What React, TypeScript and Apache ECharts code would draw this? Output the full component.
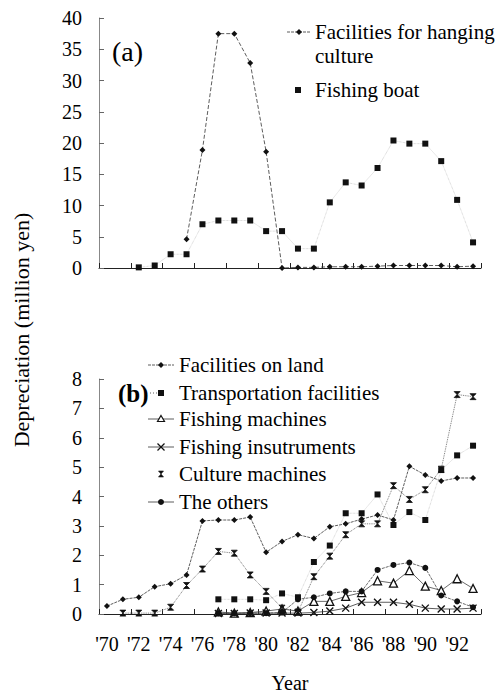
import React, { useEffect, useRef } from "react";
import * as echarts from "echarts";

const years = ["'70", "'71", "'72", "'73", "'74", "'75", "'76", "'77", "'78", "'79", "'80", "'81", "'82", "'83", "'84", "'85", "'86", "'87", "'88", "'89", "'90", "'91", "'92", "'93"];

// Panel (a)
const hangingCulture = [null, null, null, null, null, 4.6, 18.9, 37.5, 37.5, 32.8, 18.6, 0, 0.1, 0.1, 0.2, 0.2, 0.2, 0.3, 0.4, 0.4, 0.4, 0.4, 0.2, 0.3];
const fishingBoat = [null, null, 0.1, 0.4, 2.2, 2.2, 7.0, 7.6, 7.6, 7.6, 5.9, 5.9, 3.1, 3.1, 10.5, 13.7, 13.2, 16.0, 20.4, 19.9, 19.9, 17.1, 10.9, 4.1];

// Panel (b)
const facilitiesOnLand = [0.27, 0.5, 0.57, 0.93, 1.03, 1.33, 3.17, 3.2, 3.2, 3.3, 2.1, 2.47, 2.7, 2.57, 2.97, 3.07, 3.23, 3.37, 3.2, 5.03, 4.73, 4.53, 4.63, 4.63];
const transportation = [null, null, null, null, null, null, null, 0.5, 0.5, 0.5, 0.47, 0.7, 0.57, 1.77, 2.33, 3.43, 3.43, 4.07, 3.03, 3.47, 3.2, 4.9, 5.4, 5.73];
const fishingMachines = [null, null, null, null, null, null, null, 0.07, 0.03, 0.05, 0.1, 0.17, 0.1, 0.43, 0.43, 0.6, 0.73, 1.13, 1.05, 1.48, 0.95, 0.8, 1.2, 0.87];
const fishingInstruments = [null, null, null, null, null, null, null, 0.02, 0.02, 0.03, 0.03, 0.03, 0.03, 0.05, 0.1, 0.2, 0.4, 0.4, 0.4, 0.33, 0.2, 0.17, 0.17, 0.2];
const cultureMachines = [null, 0.03, 0.03, 0.03, 0.23, 0.97, 1.53, 2.13, 2.07, 1.33, 0.77, 0.2, 0.07, 1.27, 1.97, 2.7, 3.07, 3.07, 4.37, 3.9, 4.23, 4.93, 7.47, 7.4];
const theOthers = [null, null, null, null, null, null, null, 0.03, 0.03, 0.03, 0.03, 0.05, 0.5, 0.57, 0.7, 0.77, 0.77, 1.5, 1.67, 1.75, 1.57, 0.63, 0.43, 0.23];

const yTicksA = { min: 0, max: 40, interval: 5 };
const yTicksB = { min: 0, max: 8, interval: 1 };

const FONT = "Liberation Serif";
const INK = "#111";
const HOURGLASS = "path://M0,0L10,0L0,10L10,10Z";
const CROSS = "path://M0,0L10,10M10,0L0,10";

export default function App() {
  const ref = useRef<HTMLDivElement>(null);

  useEffect(() => {
    if (!ref.current) return;
    const chart = echarts.init(ref.current, null, { renderer: "svg" });

    const xAxisBase = (gridIndex: number, showLabels: boolean) => ({
      type: "category",
      gridIndex,
      data: years,
      boundaryGap: true,
      axisLine: { show: true, lineStyle: { color: "#222", width: 1 } },
      axisTick: { show: true, inside: true, length: 5, lineStyle: { color: "#222" } },
      axisLabel: {
        show: showLabels,
        interval: 1,
        margin: 20,
        fontFamily: FONT,
        fontSize: 20,
        color: "#000",
      },
      splitLine: { show: false },
    });

    const yAxisBase = (gridIndex: number, t: { min: number; max: number; interval: number }) => ({
      type: "value",
      gridIndex,
      min: t.min,
      max: t.max,
      interval: t.interval,
      axisLine: { show: true, lineStyle: { color: "#888", width: 1 } },
      axisTick: { show: true, inside: true, length: 5, lineStyle: { color: "#666" } },
      axisLabel: { margin: 17, fontFamily: FONT, fontSize: 20, color: "#000" },
      splitLine: { show: false },
    });

    const text = (x: number, y: number, s: string, size = 21, extra: any = {}) => ({
      type: "text",
      x,
      y,
      silent: true,
      ...(extra.rotation ? { rotation: extra.rotation } : {}),
      style: {
        text: s,
        fontFamily: FONT,
        fontSize: size,
        ...(extra.bold ? { fontWeight: "bold" } : {}),
        fill: "#000",
        textAlign: extra.align || "left",
        textVerticalAlign: "middle",
      },
    });
    const hline = (x1: number, x2: number, y: number, dash?: number[]) => ({
      type: "line",
      silent: true,
      shape: { x1, y1: y, x2, y2: y },
      style: { stroke: "#333", lineWidth: 0.8, lineDash: dash || null },
    });
    const diamond = (cx: number, cy: number, r = 3) => ({
      type: "polygon",
      silent: true,
      shape: { points: [[cx, cy - r], [cx + r, cy], [cx, cy + r], [cx - r, cy]] },
      style: { fill: INK },
    });
    const square = (cx: number, cy: number, s = 6) => ({
      type: "rect",
      silent: true,
      shape: { x: cx - s / 2, y: cy - s / 2, width: s, height: s },
      style: { fill: INK },
    });

    // legend rows (b)
    const lx1 = 148, lx2 = 174, lmx = 161, ltx = 179;
    const rows = [365, 393, 419, 447, 474, 502];

    chart.setOption({
      animation: false,
      backgroundColor: "#fff",
      textStyle: { fontFamily: FONT },
      grid: [
        { left: 99, top: 18, width: 382, height: 250 },
        { left: 99, top: 379, width: 382, height: 240 },
      ],
      xAxis: [
        xAxisBase(0, false),
        {
          ...xAxisBase(1, true),
          name: "Year",
          nameLocation: "middle",
          nameGap: 59,
          nameTextStyle: { fontFamily: FONT, fontSize: 20, color: "#000", verticalAlign: "top" },
        },
      ],
      yAxis: [yAxisBase(0, yTicksA), yAxisBase(1, yTicksB)],
      series: [
        {
          name: "Facilities for hanging culture",
          type: "line",
          xAxisIndex: 0,
          yAxisIndex: 0,
          data: hangingCulture,
          symbol: "diamond",
          symbolSize: 6,
          showAllSymbol: true,
          lineStyle: { color: "#333", width: 0.8, type: [4, 2] },
          itemStyle: { color: INK, borderWidth: 0 },
        },
        {
          name: "Fishing boat",
          type: "line",
          xAxisIndex: 0,
          yAxisIndex: 0,
          data: fishingBoat,
          symbol: "rect",
          symbolSize: 6,
          showAllSymbol: true,
          lineStyle: { color: "#bbb", width: 0.7, type: "dotted" },
          itemStyle: { color: INK, borderWidth: 0 },
        },
        {
          name: "Facilities on land",
          type: "line",
          xAxisIndex: 1,
          yAxisIndex: 1,
          data: facilitiesOnLand,
          symbol: "diamond",
          symbolSize: 6,
          showAllSymbol: true,
          lineStyle: { color: "#333", width: 0.8, type: [3, 1] },
          itemStyle: { color: INK, borderWidth: 0 },
        },
        {
          name: "Transportation facilities",
          type: "line",
          xAxisIndex: 1,
          yAxisIndex: 1,
          data: transportation,
          symbol: "rect",
          symbolSize: 6,
          showAllSymbol: true,
          lineStyle: { color: "#bbb", width: 0.7, type: "dotted" },
          itemStyle: { color: INK, borderWidth: 0 },
        },
        {
          name: "Fishing machines",
          type: "line",
          xAxisIndex: 1,
          yAxisIndex: 1,
          data: fishingMachines,
          symbol: "triangle",
          symbolSize: 8,
          showAllSymbol: true,
          lineStyle: { color: "#444", width: 0.8 },
          itemStyle: { color: "#fff", borderColor: INK, borderWidth: 1.3 },
        },
        {
          name: "Fishing insutruments",
          type: "line",
          xAxisIndex: 1,
          yAxisIndex: 1,
          data: fishingInstruments,
          symbol: CROSS,
          symbolSize: 7,
          showAllSymbol: true,
          lineStyle: { color: "#333", width: 0.8 },
          itemStyle: { color: "none", borderColor: INK, borderWidth: 1.4 },
        },
        {
          name: "Culture machines",
          type: "line",
          xAxisIndex: 1,
          yAxisIndex: 1,
          data: cultureMachines,
          symbol: HOURGLASS,
          symbolSize: 6,
          showAllSymbol: true,
          lineStyle: { color: "#666", width: 0.9, type: "dotted" },
          itemStyle: { color: INK, borderColor: INK, borderWidth: 0.8 },
        },
        {
          name: "The others",
          type: "line",
          xAxisIndex: 1,
          yAxisIndex: 1,
          data: theOthers,
          symbol: "circle",
          symbolSize: 6,
          showAllSymbol: true,
          lineStyle: { color: "#444", width: 0.8, type: [3, 1] },
          itemStyle: { color: INK, borderWidth: 0 },
        },
      ],
      graphic: [
        // y-axis title
        text(21, 330, "Depreciation (million yen)", 22, { align: "center", rotation: Math.PI / 2 }),
        // panel labels
        text(112, 51, "(a)", 28),
        text(118, 393, "(b)", 25, { bold: true }),
        // legend (a)
        hline(287, 311, 32, [3, 1]),
        diamond(299, 32),
        text(315, 32, "Facilities for hanging"),
        text(315, 56, "culture"),
        square(298, 90),
        text(315, 90, "Fishing boat"),
        // legend (b)
        hline(lx1, lx2, rows[0], [3, 1]),
        diamond(lmx, rows[0]),
        text(ltx, rows[0], "Facilities on land"),
        hline(150, 158, rows[1], [1, 2]),
        square(lmx, rows[1], 6),
        text(ltx, rows[1], "Transportation facilities"),
        hline(lx1, lx2, rows[2]),
        {
          type: "polygon",
          silent: true,
          shape: { points: [[lmx, rows[2] - 3.5], [lmx + 3.5, rows[2] + 2.5], [lmx - 3.5, rows[2] + 2.5]] },
          style: { fill: "#fff", stroke: INK, lineWidth: 1.2 },
        },
        text(ltx, rows[2], "Fishing machines"),
        hline(lx1, lx2, rows[3]),
        {
          type: "line",
          silent: true,
          shape: { x1: lmx - 3.5, y1: rows[3] - 3.5, x2: lmx + 3.5, y2: rows[3] + 3.5 },
          style: { stroke: INK, lineWidth: 1.3 },
        },
        {
          type: "line",
          silent: true,
          shape: { x1: lmx + 3.5, y1: rows[3] - 3.5, x2: lmx - 3.5, y2: rows[3] + 3.5 },
          style: { stroke: INK, lineWidth: 1.3 },
        },
        text(ltx, rows[3], "Fishing insutruments"),
        {
          type: "polygon",
          silent: true,
          shape: { points: [[lmx - 2.5, rows[4] - 3], [lmx + 2.5, rows[4] - 3], [lmx - 2.5, rows[4] + 3], [lmx + 2.5, rows[4] + 3]] },
          style: { fill: INK, stroke: INK, lineWidth: 0.6 },
        },
        text(ltx, rows[4], "Culture machines"),
        hline(lx1, lx2, rows[5]),
        { type: "circle", silent: true, shape: { cx: lmx, cy: rows[5], r: 3 }, style: { fill: INK } },
        text(ltx, rows[5], "The others"),
      ],
    });

    return () => chart.dispose();
  }, []);

  return (
    <div
      ref={ref}
      style={{ position: "fixed", left: 0, top: 0, width: 501, height: 694, background: "#fff" }}
    />
  );
}
